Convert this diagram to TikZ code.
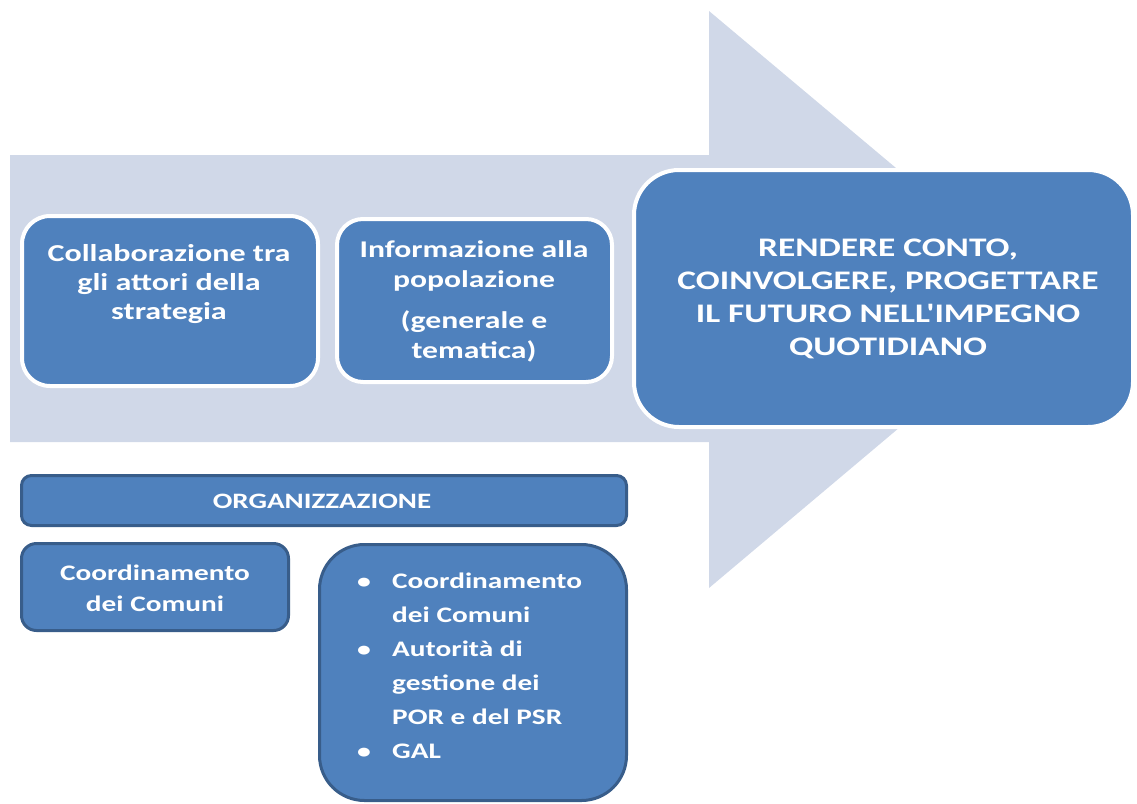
\documentclass[tikz,border=0pt]{standalone}
\usepackage{fontspec}
\setmainfont{Carlito}[FakeStretch=1.32,Ligatures=TeXOff]
\definecolor{boxblue}{HTML}{4F81BD}
\definecolor{boxdark}{HTML}{385D8A}
\definecolor{arrowfill}{HTML}{D0D8E8}
\begin{document}
\begin{tikzpicture}[x=1pt,y=-1pt,
  topbox/.style={draw=white, line width=4pt, fill=boxblue, inner sep=0pt},
  botbox/.style={draw=boxdark, line width=3pt, fill=boxblue, inner sep=0pt},
  txt/.style={text=white, align=center, inner sep=0pt}]
\useasboundingbox (0,0) rectangle (1137,803);
% big arrow
\fill[arrowfill] (10,155) -- (709,155) -- (709,11) -- (1052,299) -- (709,588) -- (709,442) -- (10,442) -- cycle;
% top boxes
\node[topbox, rounded corners=28pt, minimum width=296pt, minimum height=170pt] (b1) at (170,301) {};
\node[topbox, rounded corners=26pt, minimum width=275pt, minimum height=163pt] (b2) at (474.5,300.5) {};
\node[topbox, rounded corners=45pt, minimum width=499pt, minimum height=257pt] (b3) at (883.5,298.5) {};
\node[txt, font=\bfseries\fontsize{24.3}{29}\selectfont] (t1) at (169,284) {Collaborazione tra\\gli attori della\\strategia};
\node[txt, font=\bfseries\fontsize{24}{30.5}\selectfont] (t2) at (474,301.5) {Informazione alla\\popolazione\\[10pt](generale e\\tematica)};
\node[txt, font=\bfseries\fontsize{26.8}{33}\selectfont] (t3) at (888,299) {RENDERE CONTO,\\COINVOLGERE, PROGETTARE\\IL FUTURO NELL'IMPEGNO\\QUOTIDIANO};
% bottom boxes
\node[botbox, rounded corners=10pt, minimum width=605pt, minimum height=50pt] (org) at (324,500.5) {};
\node[txt, font=\bfseries\fontsize{22}{26}\selectfont] (torg) at (322,501) {ORGANIZZAZIONE};
\node[botbox, rounded corners=15pt, minimum width=267pt, minimum height=87pt] (coord) at (155,587) {};
\node[txt, font=\bfseries\fontsize{22.2}{31}\selectfont] (tcoord) at (155,588) {Coordinamento\\dei Comuni};
\node[botbox, rounded corners=45pt, minimum width=307pt, minimum height=256pt] (list) at (473,672.5) {};
\node[text=white, inner sep=0pt, anchor=north west, font=\bfseries\fontsize{22.2}{34}\selectfont] (tlist) at (357,564) {%
\begin{tabular}{@{}p{35pt}@{}l@{}}
{\fontsize{21}{21}\selectfont\textbullet} & Coordinamento\\
 & dei Comuni\\
{\fontsize{21}{21}\selectfont\textbullet} & Autorità di\\
 & gestione dei\\
 & POR e del PSR\\
{\fontsize{21}{21}\selectfont\textbullet} & GAL
\end{tabular}};
\end{tikzpicture}
\end{document}
